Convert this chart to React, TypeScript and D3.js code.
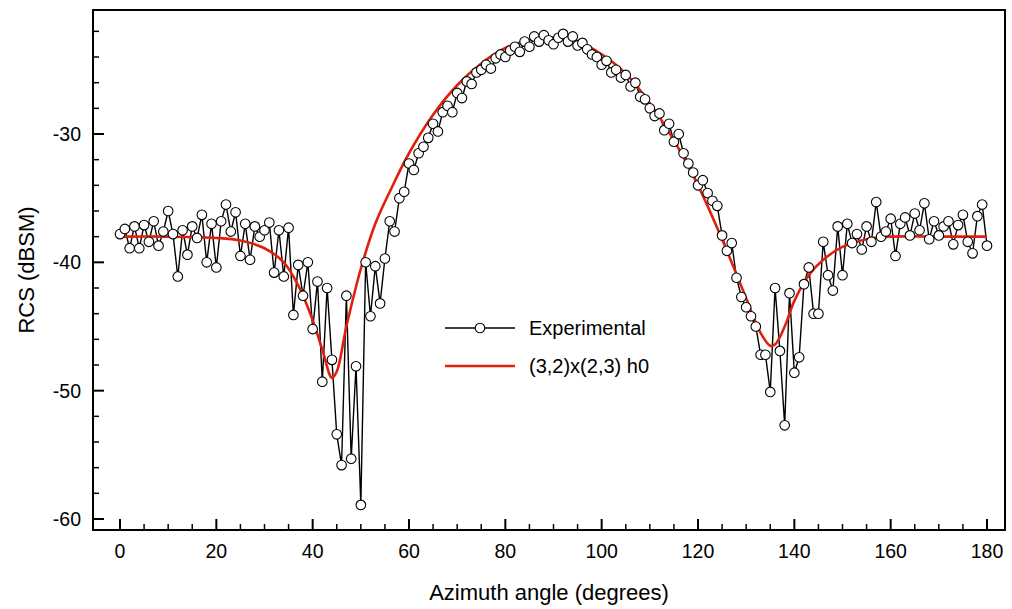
import React from 'react';
import * as d3 from 'd3';

// Experimental RCS, one sample per degree from 0 to 180
const experimental = [
  -37.8, -37.4, -38.9, -37.2, -38.9, -37.1, -38.4, -36.8, -38.7, -37.6,
  -36.0, -37.8, -41.1, -37.5, -39.4, -37.2, -38.1, -36.3, -40.0, -37.0,
  -40.4, -36.8, -35.5, -37.6, -36.1, -39.5, -37.0, -39.8, -37.2, -38.0,
  -37.5, -36.9, -40.8, -37.5, -41.1, -37.3, -44.1, -40.2, -42.6, -40.0,
  -45.2, -41.5, -49.3, -42.0, -47.6, -53.4, -55.8, -42.6, -55.3, -48.1,
  -58.9, -40.0, -44.2, -40.3, -43.2, -39.7, -36.8, -37.6, -35.0, -34.5,
  -32.3, -32.8, -31.5, -31.0, -30.3, -29.2, -29.8, -28.3, -27.8, -28.3,
  -26.8, -27.2, -25.9, -26.1, -25.2, -25.0, -24.6, -24.9, -24.1, -23.8,
  -24.0, -23.5, -23.2, -23.6, -22.8, -23.2, -22.4, -22.8, -22.3, -22.7,
  -23.0, -22.5, -22.2, -22.8, -22.4, -23.1, -22.9, -23.4, -23.8, -24.0,
  -24.6, -24.3, -25.2, -25.0, -25.6, -25.4, -26.3, -26.0, -27.1, -27.3,
  -28.0, -28.6, -28.4, -29.7, -29.2, -30.6, -30.0, -31.5, -32.3, -33.0,
  -34.0, -33.6, -34.6, -35.2, -35.6, -37.9, -39.1, -38.5, -41.2, -42.7,
  -43.5, -44.2, -45.0, -47.2, -47.2, -50.1, -42.0, -46.9, -52.7, -42.4,
  -48.6, -47.4, -41.7, -40.4, -44.0, -44.0, -38.4, -41.0, -42.2, -37.2,
  -41.0, -37.0, -38.5, -37.8, -39.0, -37.2, -38.4, -35.3, -38.0, -37.6,
  -36.6, -39.5, -37.0, -36.5, -37.9, -36.2, -37.5, -35.4, -38.2, -36.8,
  -37.9, -37.2, -36.8, -38.6, -37.1, -36.3, -38.4, -39.3, -36.4, -35.5,
  -38.7,
];

// Model curve (3,2)x(2,3) h0
const modelAngles = [0, 10, 20, 25, 30, 34, 37, 40, 42, 44, 45, 47, 50, 53, 56, 60, 65, 70, 75, 80, 85, 90, 95, 100, 105, 110, 115, 120, 125, 130, 133, 135, 136, 138, 140, 143, 146, 150, 155, 160, 170, 180];
const modelValues = [-38, -38, -38.1, -38.3, -38.9, -40, -41.8, -44.5, -46.8, -49, -48.5, -45, -40.5, -37, -34.5, -31.5, -28.5, -26.2, -24.5, -23.3, -22.7, -22.5, -22.8, -23.8, -25.3, -27.6, -30.5, -34.0, -38.2, -42.8, -45.5, -46.5, -46.4, -45, -43, -41, -39.8, -38.8, -38.2, -38.0, -38, -38];

const xMajor = [0, 20, 40, 60, 80, 100, 120, 140, 160, 180];
const yMajor = [-30, -40, -50, -60];

const W = 1012, H = 609;
const left = 93, right = 1005, top = 10, bottom = 530;
const font = 'Liberation Sans, Arial, sans-serif';

export default function App() {
  const x = d3.scaleLinear().domain([0, 180]).range([120, 987]);
  const y = d3.scaleLinear().domain([-30, -60]).range([134, 519]);

  const expPts = experimental.map((v, i) => [i, v] as [number, number]);
  const modelPts = modelAngles.map((a, i) => [a, modelValues[i]] as [number, number]);
  const expLine = d3.line<[number, number]>().x(d => x(d[0])).y(d => y(d[1]));
  const modelLine = d3.line<[number, number]>().x(d => x(d[0])).y(d => y(d[1])).curve(d3.curveCatmullRom);

  const xMinor = d3.range(0, 181, 5).filter(v => v % 20 !== 0);
  const yMinor = d3.range(-20, -61, -2).filter(v => v % 10 !== 0 && y(v) > top && y(v) < bottom);

  return (
    <svg width={W} height={H} style={{ position: 'absolute', left: 0, top: 0 }}>
      <rect x={0} y={0} width={W} height={H} fill="#fff" />
      <defs>
        <clipPath id="plot"><rect x={left} y={top} width={right - left} height={bottom - top} /></clipPath>
      </defs>
      <rect x={left} y={top} width={right - left} height={bottom - top} fill="none" stroke="#000" strokeWidth={2} />
      {xMajor.map(v => (
        <g key={v}>
          <line x1={x(v)} x2={x(v)} y1={bottom} y2={bottom - 11} stroke="#000" strokeWidth={2} />
          <text x={x(v)} y={bottom + 28} textAnchor="middle" fontFamily={font} fontSize={19.5}>{v}</text>
        </g>
      ))}
      {xMinor.map(v => (
        <line key={v} x1={x(v)} x2={x(v)} y1={bottom} y2={bottom - 6} stroke="#000" strokeWidth={1.5} />
      ))}
      {yMajor.map(v => (
        <g key={v}>
          <line x1={left} x2={left + 11} y1={y(v)} y2={y(v)} stroke="#000" strokeWidth={2} />
          <text x={left - 12} y={y(v) + 7} textAnchor="end" fontFamily={font} fontSize={19.5}>{v}</text>
        </g>
      ))}
      {yMinor.map(v => (
        <line key={v} x1={left} x2={left + 6} y1={y(v)} y2={y(v)} stroke="#000" strokeWidth={1.5} />
      ))}
      <text x={(left + right) / 2} y={600} textAnchor="middle" fontFamily={font} fontSize={22}>Azimuth angle (degrees)</text>
      <text transform={`translate(34,${(top + bottom) / 2}) rotate(-90)`} textAnchor="middle" fontFamily={font} fontSize={22}>RCS (dBSM)</text>
      <g clipPath="url(#plot)">
        <path d={expLine(expPts) ?? ''} fill="none" stroke="#000" strokeWidth={1.4} />
        <path d={modelLine(modelPts) ?? ''} fill="none" stroke="#e0200c" strokeWidth={2.6} />
        {expPts.map((p, i) => (
          <circle key={i} cx={x(p[0])} cy={y(p[1])} r={4.8} fill="#fff" stroke="#000" strokeWidth={1.1} />
        ))}
      </g>
      <g fontFamily={font} fontSize={20}>
        <line x1={445} x2={515} y1={328} y2={328} stroke="#000" strokeWidth={1.4} />
        <circle cx={480} cy={328} r={4.8} fill="#fff" stroke="#000" strokeWidth={1.1} />
        <text x={529} y={335}>Experimental</text>
        <line x1={445} x2={515} y1={366} y2={366} stroke="#e0200c" strokeWidth={2.6} />
        <text x={529} y={373}>(3,2)x(2,3) h0</text>
      </g>
    </svg>
  );
}
